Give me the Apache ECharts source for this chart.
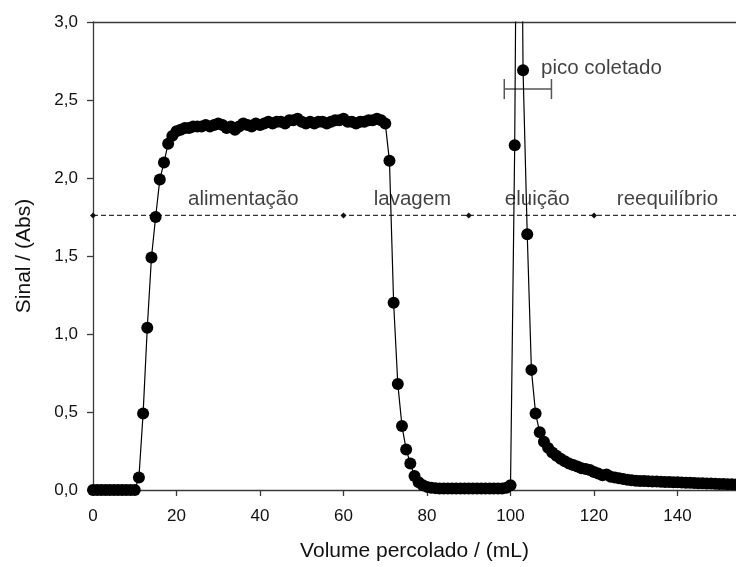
<!DOCTYPE html>
<html>
<head>
<meta charset="utf-8">
<script src="https://cdn.jsdelivr.net/npm/echarts@6/dist/echarts.min.js"></script>
<style>
  html, body { margin: 0; padding: 0; background: #fff; }
  #chart { width: 736px; height: 567px; }
</style>
</head>
<body>
<div id="chart"></div>
<script>
// Breakthrough / wash / elution profile of the column (absorbance vs. percolated volume)
const volume = [
  0, 1, 2, 3, 4, 5, 6, 7, 8, 9, 10,
  11, 12, 13, 14, 15, 16, 17, 18, 19, 20,
  21, 22, 23, 24, 25, 26, 27, 28, 29, 30,
  31, 32, 33, 34, 35, 36, 37, 38, 39, 40,
  41, 42, 43, 44, 45, 46, 47, 48, 49, 50,
  51, 52, 53, 54, 55, 56, 57, 58, 59, 60,
  61, 62, 63, 64, 65, 66, 67, 68, 69, 70,
  71, 72, 73, 74, 75, 76, 77, 78, 79, 80,
  81, 82, 83, 84, 85, 86, 87, 88, 89, 90,
  91, 92, 93, 94, 95, 96, 97, 98, 99, 100,
  101, 102, 103, 104, 105, 106, 107, 108, 109, 110,
  111, 112, 113, 114, 115, 116, 117, 118, 119, 120,
  121, 122, 123, 124, 125, 126, 127, 128, 129, 130,
  131, 132, 133, 134, 135, 136, 137, 138, 139, 140,
  141, 142, 143, 144, 145, 146, 147, 148, 149, 150,
  151, 152, 153, 154
];

const signal = [
  0.00, 0.00, 0.00, 0.00, 0.00, 0.00, 0.00, 0.00, 0.00, 0.00, 0.00,
  0.08, 0.49, 1.04, 1.49, 1.75, 1.99, 2.10, 2.22, 2.27, 2.30,
  2.31, 2.32, 2.32, 2.33, 2.33, 2.33, 2.34, 2.33, 2.34, 2.35,
  2.34, 2.32, 2.33, 2.31, 2.33, 2.35, 2.34, 2.33, 2.35, 2.34,
  2.35, 2.36, 2.35, 2.36, 2.36, 2.35, 2.37, 2.37, 2.38, 2.36,
  2.35, 2.36, 2.35, 2.36, 2.36, 2.35, 2.36, 2.37, 2.37, 2.38,
  2.36, 2.36, 2.35, 2.36, 2.36, 2.37, 2.37, 2.38, 2.37, 2.35,
  2.11, 1.20, 0.68, 0.41, 0.26, 0.17, 0.09, 0.05, 0.03, 0.02,
  0.015, 0.012, 0.01, 0.01, 0.01, 0.01, 0.01, 0.01, 0.01, 0.01,
  0.01, 0.01, 0.01, 0.01, 0.01, 0.01, 0.01, 0.01, 0.015, 0.03,
  2.21, 6.00, 2.69, 1.64, 0.77, 0.49, 0.37, 0.31, 0.27, 0.24,
  0.22, 0.20, 0.185, 0.17, 0.16, 0.15, 0.14, 0.135, 0.128, 0.115,
  0.105, 0.095, 0.10, 0.085, 0.08, 0.075, 0.07, 0.066, 0.063, 0.06,
  0.058, 0.057, 0.056, 0.055, 0.054, 0.053, 0.052, 0.051, 0.05, 0.049,
  0.048, 0.047, 0.046, 0.045, 0.044, 0.043, 0.042, 0.041, 0.04, 0.039,
  0.038, 0.037, 0.037, 0.036
];

// Step boundaries on the dashed reference line
const phaseLevel = 1.76;
const phaseBounds = [0, 60, 90, 120];
const phaseNames = ['alimentação', 'lavagem', 'eluição', 'reequilíbrio'];
const phaseLabelX = [36, 76.5, 106.4, 137.6];
const phaseLabelY = 1.86;

// Collected fraction of the elution peak
const collectedRange = [98.5, 109.8];
const collectedLevel = 2.57;
const collectedName = 'pico coletado';
const collectedLabelAt = [107.3, 2.70];

const xMin = 0, xMax = 154, xInterval = 20;
const yMin = 0, yMax = 3, yInterval = 0.5;

const FONT = 'Liberation Sans, Arial, Helvetica, sans-serif';
const AXIS_COLOR = '#3a3a3a';
const TEXT_COLOR = '#111111';

const chart = echarts.init(document.getElementById('chart'), null, { renderer: 'canvas' });

const profile = volume.map((v, i) => [v, signal[i]]);

const phaseLine = phaseBounds.map(b => [b, phaseLevel]);
phaseLine.push({ value: [xMax, phaseLevel], symbol: 'none' });

const phaseLabels = phaseNames.map((n, i) => ({ name: n, value: [phaseLabelX[i], phaseLabelY] }));

const option = {
  animation: false,
  backgroundColor: '#ffffff',
  textStyle: { fontFamily: FONT },
  grid: { left: 93, right: 0, top: 22, bottom: 77, containLabel: false },
  xAxis: [
    {
      type: 'value', min: xMin, max: xMax, interval: xInterval,
      name: 'Volume percolado / (mL)', nameLocation: 'middle', nameGap: 51,
      nameTextStyle: { fontSize: 21, color: TEXT_COLOR, fontFamily: FONT },
      axisLine: { show: true, lineStyle: { color: AXIS_COLOR, width: 1.3 } },
      axisTick: { show: true, length: 6, lineStyle: { color: AXIS_COLOR, width: 1.3 } },
      axisLabel: {
        fontSize: 17, color: TEXT_COLOR, margin: 18, fontFamily: FONT,
        showMaxLabel: false
      },
      splitLine: { show: false }
    },
    {
      type: 'value', min: xMin, max: xMax, position: 'top',
      axisLine: { show: true, lineStyle: { color: AXIS_COLOR, width: 1.3 } },
      axisTick: { show: false }, axisLabel: { show: false }, splitLine: { show: false }
    }
  ],
  yAxis: {
    type: 'value', min: yMin, max: yMax, interval: yInterval,
    name: 'Sinal / (Abs)', nameLocation: 'middle', nameGap: 58, nameRotate: 90,
    nameTextStyle: { fontSize: 21, color: TEXT_COLOR, fontFamily: FONT },
    axisLine: { show: true, lineStyle: { color: AXIS_COLOR, width: 1.3 } },
    axisTick: { show: true, length: 6, lineStyle: { color: AXIS_COLOR, width: 1.3 } },
    axisLabel: {
      fontSize: 17, color: TEXT_COLOR, margin: 15, fontFamily: FONT,
      formatter: v => v.toFixed(1).replace('.', ',')
    },
    splitLine: { show: false }
  },
  series: [
    {
      // dashed step line with boundary markers
      type: 'line', data: phaseLine, z: 1,
      symbol: 'diamond', symbolSize: 6,
      itemStyle: { color: '#111' },
      lineStyle: { color: '#333', width: 1.2, type: [5, 3] },
      silent: true
    },
    {
      type: 'scatter', data: phaseLabels, z: 2, symbolSize: 0,
      label: {
        show: true, position: 'inside', formatter: p => p.name,
        fontSize: 20.5, color: TEXT_COLOR, fontFamily: FONT
      },
      silent: true
    },
    {
      // collected range bar with end caps
      type: 'custom', z: 3, silent: true,
      data: [[collectedRange[0], collectedRange[1], collectedLevel]],
      renderItem: (params, api) => {
        const a = api.coord([api.value(0), api.value(2)]);
        const b = api.coord([api.value(1), api.value(2)]);
        const cap = 10;
        const style = { stroke: '#555', lineWidth: 1.5 };
        return {
          type: 'group',
          children: [
            { type: 'line', shape: { x1: a[0], y1: a[1], x2: b[0], y2: b[1] }, style },
            { type: 'line', shape: { x1: a[0], y1: a[1] - cap, x2: a[0], y2: a[1] + cap }, style },
            { type: 'line', shape: { x1: b[0], y1: b[1] - cap, x2: b[0], y2: b[1] + cap }, style }
          ]
        };
      }
    },
    {
      type: 'scatter', z: 4, symbolSize: 0, silent: true,
      data: [{ name: collectedName, value: collectedLabelAt }],
      label: {
        show: true, position: 'right', distance: 0, formatter: p => p.name,
        fontSize: 20.5, color: TEXT_COLOR, fontFamily: FONT
      }
    },
    {
      type: 'line', data: profile, z: 5, clip: true,
      symbol: 'circle', symbolSize: 12, showAllSymbol: true,
      itemStyle: { color: '#000' },
      lineStyle: { color: '#000', width: 1.2 }
    }
  ]
};

chart.setOption(option);
</script>
</body>
</html>
